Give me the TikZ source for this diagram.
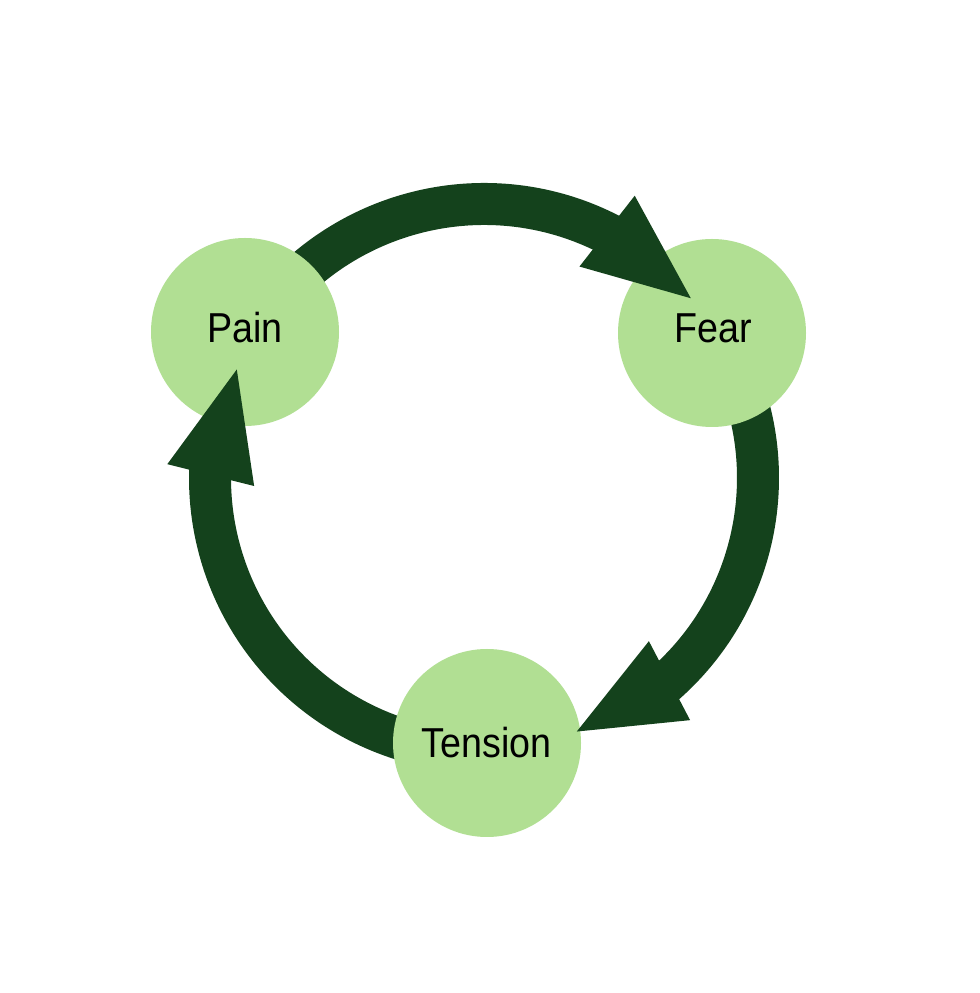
\documentclass[tikz,border=0pt]{standalone}
\usepackage{fontspec}
\setmainfont[FakeStretch=0.9]{Liberation Sans}
\definecolor{darkg}{RGB}{20,66,28}
\definecolor{lightg}{RGB}{177,223,147}
\begin{document}
\begin{tikzpicture}[x=1bp,y=1bp,
  bubble/.style={circle,fill=lightg,draw=none,minimum size=188bp,inner sep=0pt},
  lbl/.style={anchor=base,inner sep=0pt,font=\fontsize{42}{50}\selectfont,text=black},
  shaft/.style={draw=darkg,line width=42bp,line cap=butt},
  headtri/.style={fill=darkg}]
\useasboundingbox (0,0) rectangle (980,993);
\fill[white] (0,0) rectangle (980,993);
\coordinate (C) at (484,515);
% arrow shafts (tails hidden beneath source circles)
\begin{scope}[shift={(C)}]
  \draw[shaft] (148.6:274) arc[start angle=148.6, end angle=62.3, radius=274];
  \draw[shaft] (32.5:274) arc[start angle=32.5, end angle=-49, radius=274];
  \draw[shaft] (270.6:274) arc[start angle=270.6, end angle=178, radius=274];
\end{scope}
% circles
\node[bubble] (pain) at (245,661) {};
\node[bubble] (fear) at (712,660) {};
\node[bubble] (tension) at (487,250) {};
% arrow heads (drawn over target circles)
\begin{scope}[shift={(C)}]
  \fill[headtri] (61.9:320) -- (41:274) -- (65.7:232) -- cycle;
  \fill[headtri] (-44.7:232) -- (-69.9:270) -- (-49.6:318) -- cycle;
  \fill[headtri] (177.5:317) -- (156.3:270) -- (182:230) -- cycle;
\end{scope}
% labels
\node[lbl] (painL) at (245,650) {Pain};
\node[lbl] (fearL) at (713,650) {Fear};
\node[lbl] (tensionL) at (486.5,235) {Tension};
\end{tikzpicture}
\end{document}
